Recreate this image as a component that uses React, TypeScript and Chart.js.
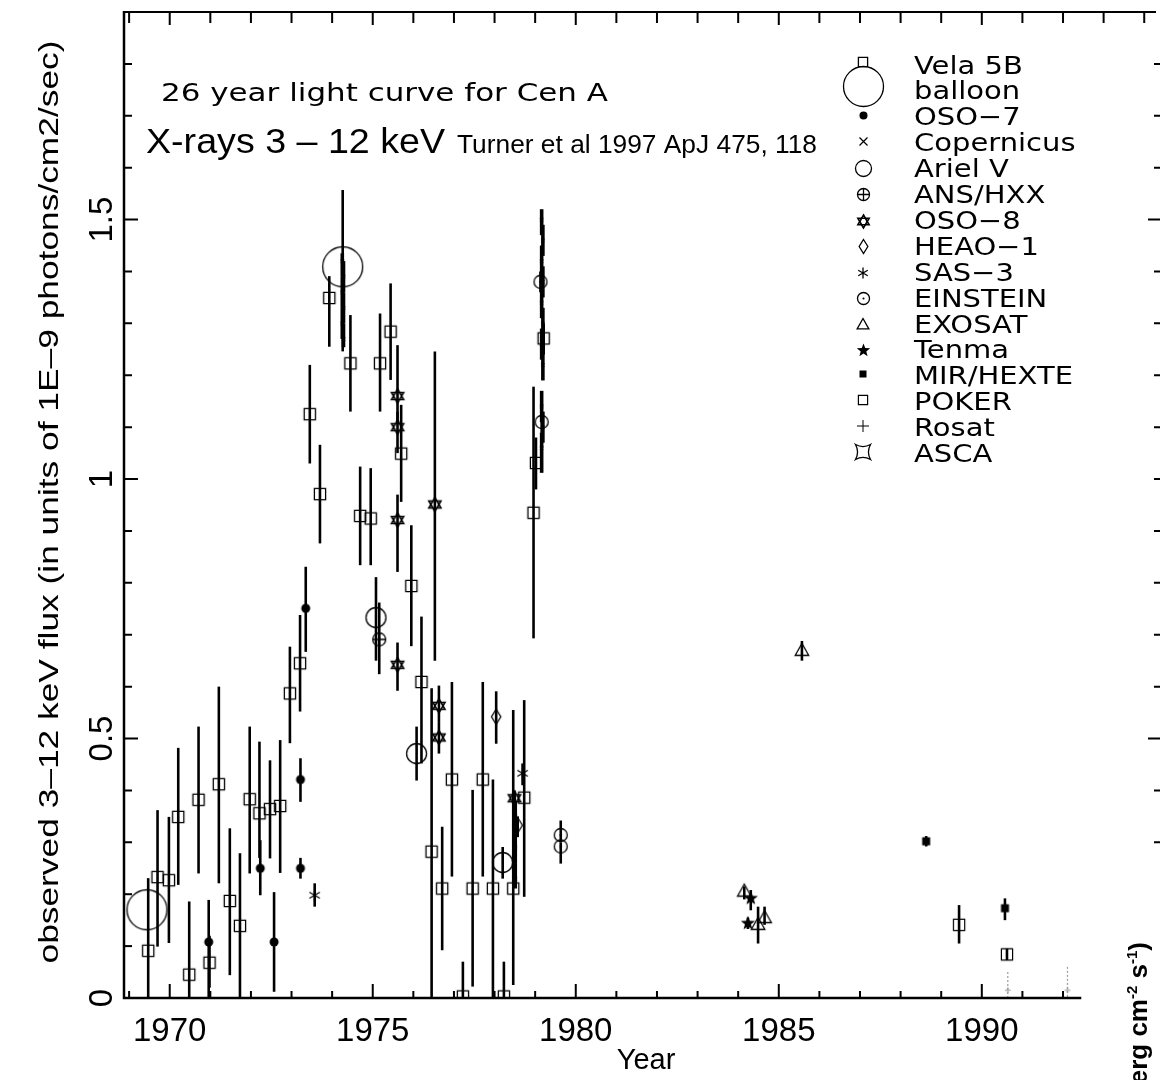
import React, { useEffect, useRef } from "react";
import { Chart, registerables } from "chart.js";

Chart.register(...registerables);

// ---------------- data: year, flux (1E-9 photons/cm2/s), error bar top / bottom ----------------
const velaYear = [1969.47, 1969.70, 1969.98, 1970.21, 1970.48, 1970.71, 1970.98, 1971.21, 1971.48, 1971.73, 1971.97, 1972.21, 1972.47, 1972.72, 1972.96, 1973.21, 1973.45, 1973.70, 1973.93, 1974.45, 1974.69, 1974.95, 1975.18, 1975.44, 1975.70, 1975.95, 1976.20, 1976.45, 1976.71, 1976.95, 1977.22, 1977.46, 1977.71, 1977.96, 1978.23, 1978.46, 1978.73, 1978.96, 1979.02, 1979.21];
const velaFlux = [0.091, 0.233, 0.227, 0.349, 0.045, 0.382, 0.068, 0.412, 0.187, 0.139, 0.383, 0.356, 0.364, 0.370, 0.587, 0.645, 1.125, 0.971, 1.349, 1.223, 0.929, 0.924, 1.223, 1.284, 1.049, 0.794, 0.609, 0.282, 0.211, 0.421, 0.003, 0.211, 0.421, 0.211, 0.003, 0.211, 0.386, 0.935, 1.031, 1.271];
const velaHi = [0.231, 0.362, 0.349, 0.482, 0.186, 0.523, 0.120, 0.600, 0.327, 0.279, 0.523, 0.494, 0.458, 0.497, 0.677, 0.738, 1.220, 1.066, 1.391, 1.316, 1.024, 1.021, 1.319, 1.377, 1.143, 0.911, 0.735, 0.597, 0.330, 0.609, 0.070, 0.401, 0.609, 0.421, 0.070, 0.555, 0.574, 1.178, 1.080, 1.300];
const velaLo = [0, 0.099, 0.106, 0.218, 0, 0.240, 0.020, 0.221, 0.044, 0, 0.240, 0.270, 0.269, 0.241, 0.491, 0.552, 1.030, 0.876, 1.255, 1.130, 0.834, 0.834, 1.130, 1.191, 0.956, 0.678, 0.452, 0, 0.092, 0.234, 0, 0.022, 0.234, 0, 0, 0.025, 0.195, 0.693, 0.980, 1.240];

const balloonYear = [1969.44, 1974.26];
const balloonFlux = [0.170, 1.409];
const balloonHi = [0.170, 1.557];
const balloonLo = [0.170, 1.246];

const oso7Year = [1970.96, 1972.23, 1972.57, 1973.22, 1973.22, 1973.35];
const oso7Flux = [0.108, 0.250, 0.108, 0.421, 0.250, 0.751];
const oso7Hi = [0.189, 0.304, 0.204, 0.462, 0.270, 0.831];
const oso7Lo = [0, 0.198, 0.012, 0.378, 0.230, 0.667];

const copYear = [1974.25, 1974.28, 1974.25, 1974.28, 1974.25, 1974.28, 1978.48, 1978.51, 1978.48, 1978.51, 1978.48, 1978.51, 1979.16, 1979.19, 1979.16, 1979.19, 1979.16, 1979.19, 1979.16, 1979.19, 1979.16, 1979.19, 1979.16];
const copFlux = [1.42, 1.39, 1.36, 1.33, 1.30, 1.27, 0.38, 0.35, 0.32, 0.29, 0.26, 0.23, 1.50, 1.46, 1.42, 1.38, 1.34, 1.30, 1.26, 1.22, 1.14, 1.10, 1.06];
const copHi = [1.435, 1.42, 1.39, 1.36, 1.33, 1.30, 0.397, 0.38, 0.35, 0.32, 0.29, 0.26, 1.52, 1.49, 1.45, 1.41, 1.37, 1.33, 1.29, 1.25, 1.17, 1.13, 1.09];
const copLo = [1.39, 1.36, 1.33, 1.30, 1.27, 1.254, 0.35, 0.32, 0.29, 0.26, 0.23, 0.211, 1.47, 1.43, 1.39, 1.35, 1.31, 1.27, 1.23, 1.19, 1.11, 1.07, 1.012];

const arielYear = [1975.08, 1976.08, 1978.20];
const arielFlux = [0.733, 0.471, 0.261];
const arielHi = [0.811, 0.523, 0.291];
const arielLo = [0.650, 0.419, 0.230];

const ansYear = [1975.16];
const ansFlux = [0.691];
const ansHi = [0.762];
const ansLo = [0.624];

const oso8Year = [1975.61, 1975.61, 1975.61, 1975.61, 1976.53, 1976.63, 1976.63, 1978.49];
const oso8Flux = [1.160, 1.100, 0.921, 0.642, 0.951, 0.563, 0.502, 0.385];
const oso8Hi = [1.258, 1.130, 0.970, 0.685, 1.246, 0.602, 0.530, 0.400];
const oso8Lo = [1.110, 1.050, 0.821, 0.592, 0.650, 0.530, 0.471, 0.370];

const heaoYear = [1978.04, 1978.57];
const heaoFlux = [0.542, 0.333];
const heaoHi = [0.591, 0.350];
const heaoLo = [0.490, 0.310];

const sas3Year = [1973.57, 1978.69];
const sas3Flux = [0.198, 0.433];
const sas3Hi = [0.221, 0.452];
const sas3Lo = [0.176, 0.410];

const einsteinYear = [1979.13, 1979.16, 1979.63, 1979.63];
const einsteinFlux = [1.380, 1.110, 0.314, 0.292];
const einsteinHi = [1.400, 1.130, 0.342, 0.300];
const einsteinLo = [1.360, 1.090, 0.300, 0.259];

const exosatYear = [1985.57, 1984.15, 1984.49, 1984.65];
const exosatFlux = [0.669, 0.205, 0.141, 0.154];
const exosatHi = [0.688, 0.215, 0.176, 0.176];
const exosatLo = [0.650, 0.190, 0.105, 0.141];

const tenmaYear = [1984.31, 1984.24];
const tenmaFlux = [0.192, 0.144];
const tenmaHi = [0.208, 0.155];
const tenmaLo = [0.169, 0.133];

const mirYear = [1988.63, 1990.57];
const mirFlux = [0.302, 0.173];
const mirHi = [0.312, 0.192];
const mirLo = [0.292, 0.150];

const pokerYear = [1989.44, 1990.62];
const pokerFlux = [0.141, 0.084];
const pokerHi = [0.179, 0.095];
const pokerLo = [0.105, 0.073];

const rosatYear = [1990.64, 1992.11];
const rosatFlux = [0.015, 0.015];
const rosatHi = [0.050, 0.060];
const rosatLo = [0, 0];

const ascaYear: number[] = [];
const ascaFlux: number[] = [];

// axis labels
const xLabelYears = [1970, 1975, 1980, 1985, 1990];
const yLabelValues = [0, 0.5, 1, 1.5];
const yLabelTexts = ["0", "0.5", "1", "1.5"];
const X_MIN = 1968.874;
const X_MAX = 1994.29;
const Y_MIN = 0;
const Y_MAX = 1.9;

const TITLE_1 = "26 year light curve for Cen A";
const TITLE_2 = "X-rays 3 – 12 keV";
const TITLE_3 = "Turner et al 1997 ApJ 475, 118";
const Y_TITLE = "observed 3–12 keV flux (in units of 1E–9 photons/cm2/sec)";
const X_TITLE = "Year";

// ---------------- symbols ----------------
type Sym =
  | "square" | "circle" | "dot" | "x" | "oplus" | "hexagram" | "diamond"
  | "asterisk" | "odot" | "triangle" | "star5" | "fsquare" | "plus" | "asca";

function drawSymbol(ctx: CanvasRenderingContext2D, kind: Sym, cx: number, cy: number, s: number, color: string, lw: number) {
  ctx.save();
  ctx.strokeStyle = color;
  ctx.fillStyle = color;
  ctx.lineWidth = lw;
  ctx.lineJoin = "miter";
  ctx.beginPath();
  const poly = (n: number, r: number, start: number) => {
    for (let k = 0; k < n; k++) {
      const a = start + (k * 2 * Math.PI) / n;
      const px = cx + r * Math.cos(a);
      const py = cy + r * Math.sin(a);
      if (k === 0) ctx.moveTo(px, py);
      else ctx.lineTo(px, py);
    }
    ctx.closePath();
  };
  switch (kind) {
    case "square":
      ctx.rect(cx - s, cy - s, 2 * s, 2 * s);
      ctx.stroke();
      break;
    case "fsquare":
      ctx.rect(cx - s, cy - s, 2 * s, 2 * s);
      ctx.fill();
      break;
    case "circle":
      ctx.arc(cx, cy, s, 0, Math.PI * 2);
      ctx.stroke();
      break;
    case "dot":
      ctx.arc(cx, cy, s, 0, Math.PI * 2);
      ctx.fill();
      break;
    case "x":
      ctx.moveTo(cx - s, cy - s); ctx.lineTo(cx + s, cy + s);
      ctx.moveTo(cx + s, cy - s); ctx.lineTo(cx - s, cy + s);
      ctx.stroke();
      break;
    case "plus":
      ctx.moveTo(cx - s, cy); ctx.lineTo(cx + s, cy);
      ctx.moveTo(cx, cy - s); ctx.lineTo(cx, cy + s);
      ctx.stroke();
      break;
    case "oplus":
      ctx.arc(cx, cy, s, 0, Math.PI * 2);
      ctx.moveTo(cx - s, cy); ctx.lineTo(cx + s, cy);
      ctx.moveTo(cx, cy - s); ctx.lineTo(cx, cy + s);
      ctx.stroke();
      break;
    case "odot":
      ctx.arc(cx, cy, s, 0, Math.PI * 2);
      ctx.stroke();
      ctx.beginPath();
      ctx.arc(cx, cy, Math.max(1, s * 0.18), 0, Math.PI * 2);
      ctx.fill();
      break;
    case "hexagram":
      poly(3, s, -Math.PI / 2);
      ctx.stroke();
      ctx.beginPath();
      poly(3, s, Math.PI / 2);
      ctx.stroke();
      break;
    case "diamond":
      ctx.moveTo(cx, cy - s); ctx.lineTo(cx + s * 0.62, cy);
      ctx.lineTo(cx, cy + s); ctx.lineTo(cx - s * 0.62, cy);
      ctx.closePath();
      ctx.stroke();
      break;
    case "asterisk":
      for (let k = 0; k < 3; k++) {
        const a = Math.PI / 2 + (k * Math.PI) / 3;
        ctx.moveTo(cx - s * Math.cos(a), cy - s * Math.sin(a));
        ctx.lineTo(cx + s * Math.cos(a), cy + s * Math.sin(a));
      }
      ctx.stroke();
      break;
    case "triangle":
      ctx.moveTo(cx, cy - s);
      ctx.lineTo(cx + s * 0.9, cy + s * 0.6);
      ctx.lineTo(cx - s * 0.9, cy + s * 0.6);
      ctx.closePath();
      ctx.stroke();
      break;
    case "star5":
      for (let k = 0; k < 10; k++) {
        const a = -Math.PI / 2 + (k * Math.PI) / 5;
        const r = k % 2 === 0 ? s : s * 0.42;
        const px = cx + r * Math.cos(a);
        const py = cy + r * Math.sin(a);
        if (k === 0) ctx.moveTo(px, py);
        else ctx.lineTo(px, py);
      }
      ctx.closePath();
      ctx.fill();
      break;
    case "asca": {
      const c = s * 0.45;
      ctx.moveTo(cx - s, cy - s);
      ctx.quadraticCurveTo(cx, cy - c, cx + s, cy - s);
      ctx.quadraticCurveTo(cx + c, cy, cx + s, cy + s);
      ctx.quadraticCurveTo(cx, cy + c, cx - s, cy + s);
      ctx.quadraticCurveTo(cx - c, cy, cx - s, cy - s);
      ctx.closePath();
      ctx.stroke();
      break;
    }
  }
  ctx.restore();
}

function makeSymbol(kind: Sym, s: number, color: string, lw: number): HTMLCanvasElement {
  const c = document.createElement("canvas");
  const n = Math.ceil(2 * s + 2 * lw + 2);
  c.width = n;
  c.height = n;
  const g = c.getContext("2d")!;
  drawSymbol(g, kind, n / 2, n / 2, s, color, lw);
  return c;
}

function pts(xs: number[], ys: number[], hi?: number[], lo?: number[]) {
  return xs.map((x, i) => ({ x, y: ys[i], hi: hi ? hi[i] : null, lo: lo ? lo[i] : null }));
}

interface Series {
  label: string;
  data: { x: number; y: number; hi: number | null; lo: number | null }[];
  sym: Sym;
  size: number;
  lsize: number;
  ldy: number;
  lw?: number;
  color?: string;
  errColor?: string;
  errDash?: number[];
  errWidth?: number;
}

function buildSeries(): Series[] {
  return [
    { label: "Vela 5B", data: pts(velaYear, velaFlux, velaHi, velaLo), sym: "square", size: 5.6, lsize: 4.6, ldy: -12, lw: 1.3 },
    { label: "balloon", data: pts(balloonYear, balloonFlux, balloonHi, balloonLo), sym: "circle", size: 20, lsize: 20, ldy: -13, lw: 1.3 },
    { label: "OSO−7", data: pts(oso7Year, oso7Flux, oso7Hi, oso7Lo), sym: "dot", size: 4.5, lsize: 4, ldy: -10 },
    { label: "Copernicus", data: pts(copYear, copFlux, copHi, copLo), sym: "x", size: 1.5, lsize: 4, ldy: -10, lw: 1.2, errWidth: 3.6 },
    { label: "Ariel V", data: pts(arielYear, arielFlux, arielHi, arielLo), sym: "circle", size: 10, lsize: 8, ldy: -9, lw: 1.3 },
    { label: "ANS/HXX", data: pts(ansYear, ansFlux, ansHi, ansLo), sym: "oplus", size: 6.5, lsize: 6, ldy: -9, lw: 1.3 },
    { label: "OSO−8", data: pts(oso8Year, oso8Flux, oso8Hi, oso8Lo), sym: "hexagram", size: 7, lsize: 6.5, ldy: -7, lw: 1.6 },
    { label: "HEAO−1", data: pts(heaoYear, heaoFlux, heaoHi, heaoLo), sym: "diamond", size: 7.5, lsize: 7, ldy: -8, lw: 1.3 },
    { label: "SAS−3", data: pts(sas3Year, sas3Flux, sas3Hi, sas3Lo), sym: "asterisk", size: 6, lsize: 5.5, ldy: -8, lw: 1.3 },
    { label: "EINSTEIN", data: pts(einsteinYear, einsteinFlux, einsteinHi, einsteinLo), sym: "odot", size: 6.5, lsize: 6, ldy: -8, lw: 1.3 },
    { label: "EXOSAT", data: pts(exosatYear, exosatFlux, exosatHi, exosatLo), sym: "triangle", size: 7.5, lsize: 6.5, ldy: -8, lw: 1.3 },
    { label: "Tenma", data: pts(tenmaYear, tenmaFlux, tenmaHi, tenmaLo), sym: "star5", size: 7.5, lsize: 7, ldy: -8 },
    { label: "MIR/HEXTE", data: pts(mirYear, mirFlux, mirHi, mirLo), sym: "fsquare", size: 4, lsize: 3.5, ldy: -10 },
    { label: "POKER", data: pts(pokerYear, pokerFlux, pokerHi, pokerLo), sym: "square", size: 5.6, lsize: 4.6, ldy: -10, lw: 1.2 },
    { label: "Rosat", data: pts(rosatYear, rosatFlux, rosatHi, rosatLo), sym: "plus", size: 3, lsize: 6, ldy: -10, lw: 1, color: "#999", errColor: "#999", errDash: [2, 2], errWidth: 1.2 },
    { label: "ASCA", data: pts(ascaYear, ascaFlux), sym: "asca", size: 7, lsize: 7.5, ldy: -10, lw: 1.3 },
  ];
}

// ---------------- text helper ----------------
function drawText(
  ctx: CanvasRenderingContext2D, text: string, x: number, y: number, font: string,
  o: { align?: CanvasTextAlign; width?: number; sx?: number; rotate?: number } = {}
) {
  ctx.save();
  ctx.font = font;
  ctx.translate(x, y);
  if (o.rotate) ctx.rotate(o.rotate);
  let sx = o.sx ?? 1;
  if (o.width) sx = o.width / ctx.measureText(text).width;
  ctx.scale(sx, 1);
  ctx.textAlign = o.align ?? "left";
  ctx.textBaseline = "alphabetic";
  ctx.fillText(text, 0, 0);
  ctx.restore();
}

const errorBarPlugin = {
  id: "errorBars",
  afterDatasetsDraw(chart: any) {
    const { ctx, scales } = chart;
    const xs = scales.x, ys = scales.y;
    ctx.save();
    ctx.beginPath();
    ctx.rect(chart.chartArea.left, chart.chartArea.top, chart.chartArea.right - chart.chartArea.left, chart.chartArea.bottom - chart.chartArea.top);
    ctx.clip();
    chart.data.datasets.forEach((ds: any) => {
      ctx.strokeStyle = ds.errColor || "#000";
      ctx.lineWidth = ds.errWidth || 2.6;
      ctx.setLineDash(ds.errDash || []);
      ds.data.forEach((p: any) => {
        if (p.hi == null || p.lo == null || p.hi === p.lo) return;
        const x = xs.getPixelForValue(p.x);
        ctx.beginPath();
        ctx.moveTo(x, ys.getPixelForValue(p.hi));
        ctx.lineTo(x, ys.getPixelForValue(p.lo));
        ctx.stroke();
      });
    });
    ctx.restore();
  },
};

const framePlugin = {
  id: "frame",
  afterDraw(chart: any) {
    const { ctx, chartArea: a, scales } = chart;
    const xs = scales.x, ys = scales.y;
    ctx.save();
    ctx.strokeStyle = "#000";
    ctx.fillStyle = "#000";
    ctx.setLineDash([]);

    const bottomEnd = xs.getPixelForValue(1992.45);
    // frame lines
    ctx.lineWidth = 2.5;
    ctx.beginPath();
    ctx.moveTo(a.left, a.top - 1);
    ctx.lineTo(a.left, a.bottom + 1.2);
    ctx.moveTo(a.left, a.bottom);
    ctx.lineTo(bottomEnd, a.bottom);
    ctx.stroke();
    ctx.lineWidth = 2;
    ctx.beginPath();
    ctx.moveTo(a.left, a.top);
    ctx.lineTo(a.right, a.top);
    ctx.stroke();

    // x ticks
    ctx.lineWidth = 2;
    for (let yr = 1969; yr <= 1994; yr++) {
      const x = xs.getPixelForValue(yr);
      const major = yr % 5 === 0;
      ctx.beginPath();
      ctx.moveTo(x, a.top);
      ctx.lineTo(x, a.top + (major ? 13 : 11));
      if (x <= bottomEnd) {
        ctx.moveTo(x, a.bottom);
        ctx.lineTo(x, a.bottom - (major ? 14 : 7));
      }
      ctx.stroke();
    }
    // y ticks (left & right)
    for (let k = 1; k <= 18; k++) {
      const v = k / 10;
      const y = ys.getPixelForValue(v);
      const major = k % 5 === 0;
      ctx.beginPath();
      ctx.moveTo(a.left, y);
      ctx.lineTo(a.left + (major ? 14 : 8), y);
      if (k >= 3) {
        const rmaj = k === 5 || k === 15;
        ctx.moveTo(1160, y);
        ctx.lineTo(1160 - (rmaj ? 12 : 6), y);
      }
      ctx.stroke();
    }

    // tick labels
    xLabelYears.forEach((yr) => {
      drawText(ctx, String(yr), xs.getPixelForValue(yr), 1041, '33px "Liberation Sans"', { align: "center" });
    });
    yLabelValues.forEach((v, i) => {
      drawText(ctx, yLabelTexts[i], 112, ys.getPixelForValue(v), '33px "Liberation Sans"', { align: "center", rotate: -Math.PI / 2 });
    });
    // axis titles
    drawText(ctx, X_TITLE, 646, 1069, '29px "Liberation Sans"', { align: "center" });
    drawText(ctx, Y_TITLE, 58, 502, '28px "Liberation Sans"', { align: "center", rotate: -Math.PI / 2, width: 923 });

    // right-hand (cut off) secondary axis title
    ctx.save();
    ctx.translate(1147, 942);
    ctx.rotate(-Math.PI / 2);
    const pieces = [
      { t: "flux (erg cm", sup: false },
      { t: "-2", sup: true },
      { t: " s", sup: false },
      { t: "-1", sup: true },
      { t: ")", sup: false },
    ];
    const mainF = 'bold 26px "Liberation Sans"';
    const supF = 'bold 15px "Liberation Sans"';
    let total = 0;
    pieces.forEach((p) => {
      ctx.font = p.sup ? supF : mainF;
      total += ctx.measureText(p.t).width;
    });
    let cx = -total;
    pieces.forEach((p) => {
      ctx.font = p.sup ? supF : mainF;
      ctx.fillText(p.t, cx, p.sup ? -10 : 0);
      cx += ctx.measureText(p.t).width;
    });
    ctx.restore();

    // titles inside the plot
    drawText(ctx, TITLE_1, 161, 101, '25px "DejaVu Sans"', { width: 447 });
    drawText(ctx, TITLE_2, 146, 153, '35px "Liberation Sans"', { width: 299 });
    drawText(ctx, TITLE_3, 457, 153, '25px "Liberation Sans"', { width: 360 });

    // legend
    chart.data.datasets.forEach((ds: any, i: number) => {
      const base = 73.5 + i * 25.9;
      const sym = ds.legendSymbol as HTMLCanvasElement;
      ctx.drawImage(sym, Math.round(863 - sym.width / 2), Math.round(base + ds.legendDy - sym.height / 2));
      drawText(ctx, ds.label, 914, base, '25px "DejaVu Sans"', { sx: 1.16 });
    });
    ctx.restore();
  },
};

export default function App() {
  const ref = useRef<HTMLCanvasElement | null>(null);
  useEffect(() => {
    if (!ref.current) return;
    const series = buildSeries();
    const datasets = series.map((s) => ({
      label: s.label,
      data: s.data,
      showLine: false,
      pointStyle: makeSymbol(s.sym, s.size, s.color || "#000", s.lw ?? 1.3),
      pointRadius: 5,
      pointHoverRadius: 5,
      borderColor: s.color || "#000",
      backgroundColor: s.color || "#000",
      legendSymbol: makeSymbol(s.sym, s.lsize, "#000", s.lw ?? 1.3),
      legendDy: s.ldy,
      errColor: s.errColor,
      errDash: s.errDash,
      errWidth: s.errWidth,
    }));
    const chart = new Chart(ref.current, {
      type: "scatter",
      data: { datasets: datasets as any },
      options: {
        responsive: false,
        animation: false,
        devicePixelRatio: 1,
        events: [],
        layout: { padding: { left: 124, top: 12, right: 0, bottom: 82 } },
        scales: {
          x: { type: "linear", min: X_MIN, max: X_MAX, display: false },
          y: { type: "linear", min: Y_MIN, max: Y_MAX, display: false },
        },
        plugins: { legend: { display: false }, tooltip: { enabled: false } },
      },
      plugins: [errorBarPlugin, framePlugin],
    } as any);
    return () => chart.destroy();
  }, []);
  return (
    <div style={{ position: "absolute", left: 0, top: 0, width: 1162, height: 1080, background: "#fff" }}>
      <canvas ref={ref} width={1162} height={1080} style={{ display: "block", width: 1162, height: 1080 }} />
    </div>
  );
}
